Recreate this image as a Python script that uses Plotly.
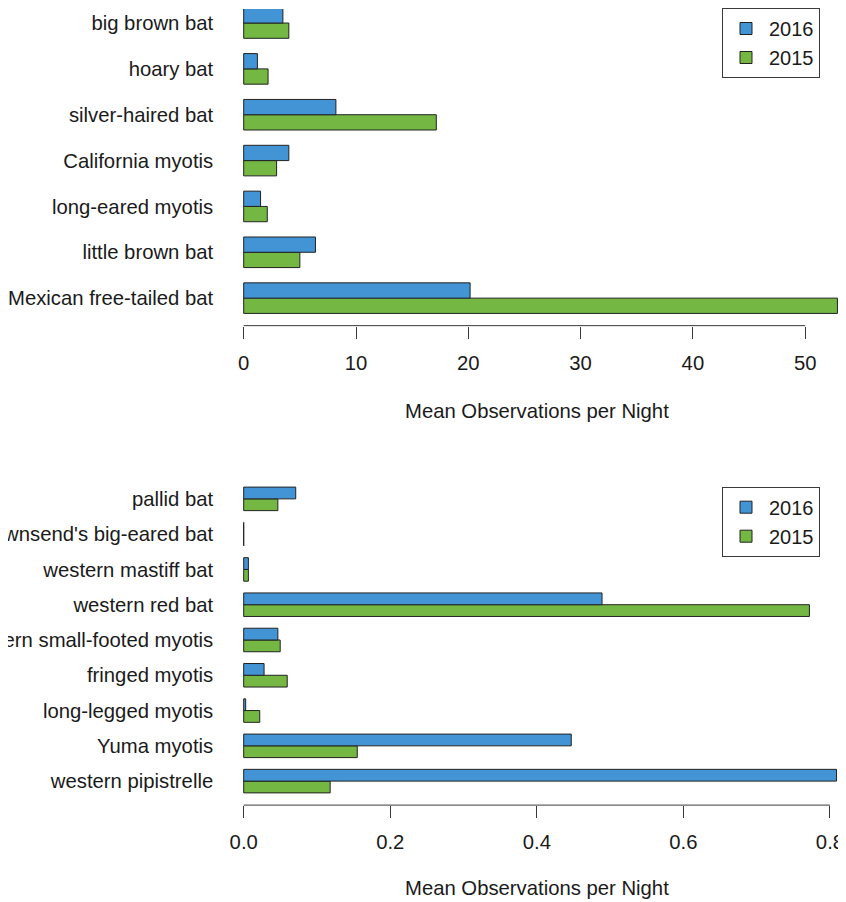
import plotly.graph_objects as go

# ---------------- data ----------------
top_species = ["big brown bat", "hoary bat", "silver-haired bat", "California myotis",
               "long-eared myotis", "little brown bat", "Mexican free-tailed bat"]
top_2016 = [3.49, 1.22, 8.21, 4.02, 1.50, 6.39, 20.16]
top_2015 = [4.02, 2.17, 17.15, 2.93, 2.10, 5.00, 52.87]

bot_species = ["pallid bat", "Townsend's big-eared bat", "western mastiff bat", "western red bat",
               "western small-footed myotis", "fringed myotis", "long-legged myotis",
               "Yuma myotis", "western pipistrelle"]
bot_2016 = [0.071, 0.0, 0.0064, 0.489, 0.0466, 0.0278, 0.0027, 0.447, 0.809]
bot_2015 = [0.0466, 0.0, 0.0064, 0.772, 0.0498, 0.0594, 0.0219, 0.155, 0.118]

top_ticks = [0, 10, 20, 30, 40, 50]
top_ticktext = ["0", "10", "20", "30", "40", "50"]
bot_ticks = [0, 0.2, 0.4, 0.6, 0.8]
bot_ticktext = ["0.0", "0.2", "0.4", "0.6", "0.8"]

x_title = "Mean Observations per Night"
years = ["2016", "2015"]

# ---------------- style / layout ----------------
OFF = 8                     # default body margin of the page
W, H = 846 - OFF, 902 - OFF
FONT = "Liberation Sans, Arial, Helvetica, sans-serif"
FS = 20.3
BLUE = "#4394D4"
GREEN = "#74B843"
EDGE = "#222222"
AX = "#3a3a3a"
TXT = "#1a1a1a"

def px(p):       # reference pixel -> figure pixel
    return p - OFF

plot_left_px = px(220.2)
zero_px = px(243.7)
top_scale = 11.23      # px per unit
bot_scale = 732.8      # px per unit

top_xrange = [(plot_left_px - zero_px) / top_scale, (W - zero_px) / top_scale]
bot_xrange = [(plot_left_px - zero_px) / bot_scale, (W - zero_px) / bot_scale]

def ydom(top_ref, bot_ref):
    return [1 - px(bot_ref) / H, 1 - px(top_ref) / H]

# top panel plot area in reference px: -5.5 .. 325 (cropped at the top)
top_dom = [1 - px(325) / H, 1.0]
top_yr = [-0.6, 6.6 - (OFF + 5.5) / 45.9]

fig = go.Figure()

fig.add_trace(go.Bar(y=top_species, x=top_2015, orientation="h", name=years[1],
                     marker=dict(color=GREEN, line=dict(color=EDGE, width=1)),
                     xaxis="x", yaxis="y", legend="legend", legendrank=2))
fig.add_trace(go.Bar(y=top_species, x=top_2016, orientation="h", name=years[0],
                     marker=dict(color=BLUE, line=dict(color=EDGE, width=1)),
                     xaxis="x", yaxis="y", legend="legend", legendrank=1))
fig.add_trace(go.Bar(y=bot_species, x=bot_2015, orientation="h", name=years[1],
                     marker=dict(color=GREEN, line=dict(color=EDGE, width=1)),
                     xaxis="x2", yaxis="y2", legend="legend2", legendrank=2))
fig.add_trace(go.Bar(y=bot_species, x=bot_2016, orientation="h", name=years[0],
                     marker=dict(color=BLUE, line=dict(color=EDGE, width=1)),
                     xaxis="x2", yaxis="y2", legend="legend2", legendrank=1))

xcommon = dict(showgrid=False, zeroline=False, showline=False, ticks="outside",
               ticklen=12, tickwidth=1, tickcolor=AX, ticklabelstandoff=7,
               ticklabeloverflow="allow",
               tickfont=dict(family=FONT, size=FS, color=TXT),
               domain=[plot_left_px / W, 1], automargin=False, fixedrange=True)
ycommon = dict(type="category", categoryorder="array", showgrid=False, zeroline=False,
               showline=False, ticks="", automargin=False, ticklabelstandoff=6,
               tickfont=dict(family=FONT, size=FS, color=TXT), fixedrange=True)

legend_common = dict(xanchor="left", yanchor="top", bordercolor=AX, borderwidth=1,
                     bgcolor="white", itemwidth=36,
                     font=dict(family=FONT, size=20, color=TXT))

fig.update_layout(
    width=W, height=H,
    margin=dict(l=0, r=0, t=0, b=0),
    paper_bgcolor="white", plot_bgcolor="white",
    barmode="group", bargap=1/3, bargroupgap=0,
    font=dict(family=FONT, size=FS, color=TXT),
    xaxis=dict(xcommon, range=top_xrange, tickvals=top_ticks, ticktext=top_ticktext, anchor="y"),
    yaxis=dict(ycommon, categoryarray=top_species[::-1], range=top_yr,
               domain=top_dom, anchor="x"),
    xaxis2=dict(xcommon, range=bot_xrange, tickvals=bot_ticks, ticktext=bot_ticktext, anchor="y2"),
    yaxis2=dict(ycommon, categoryarray=bot_species[::-1], range=[-0.68, 8.68],
                domain=ydom(474.4, 805), anchor="x2"),
    legend=dict(legend_common, x=px(722) / W, y=1 - px(6.7) / H),
    legend2=dict(legend_common, x=px(722) / W, y=1 - px(486.7) / H),
    shapes=[
        dict(type="line", xref="x", yref="y domain", x0=top_ticks[0], x1=top_ticks[-1],
             y0=0, y1=0, line=dict(color=AX, width=1)),
        dict(type="line", xref="x2", yref="y2 domain", x0=bot_ticks[0], x1=bot_ticks[-1],
             y0=0, y1=0, line=dict(color=AX, width=1)),
    ],
    annotations=[
        dict(text=x_title, xref="paper", yref="paper", x=px(537) / W, y=1 - px(410) / H,
             xanchor="center", yanchor="middle", showarrow=False,
             font=dict(family=FONT, size=FS, color=TXT)),
        dict(text=x_title, xref="paper", yref="paper", x=px(537) / W, y=1 - px(888) / H,
             xanchor="center", yanchor="middle", showarrow=False,
             font=dict(family=FONT, size=FS, color=TXT)),
    ],
)

fig.write_html("out.html")
